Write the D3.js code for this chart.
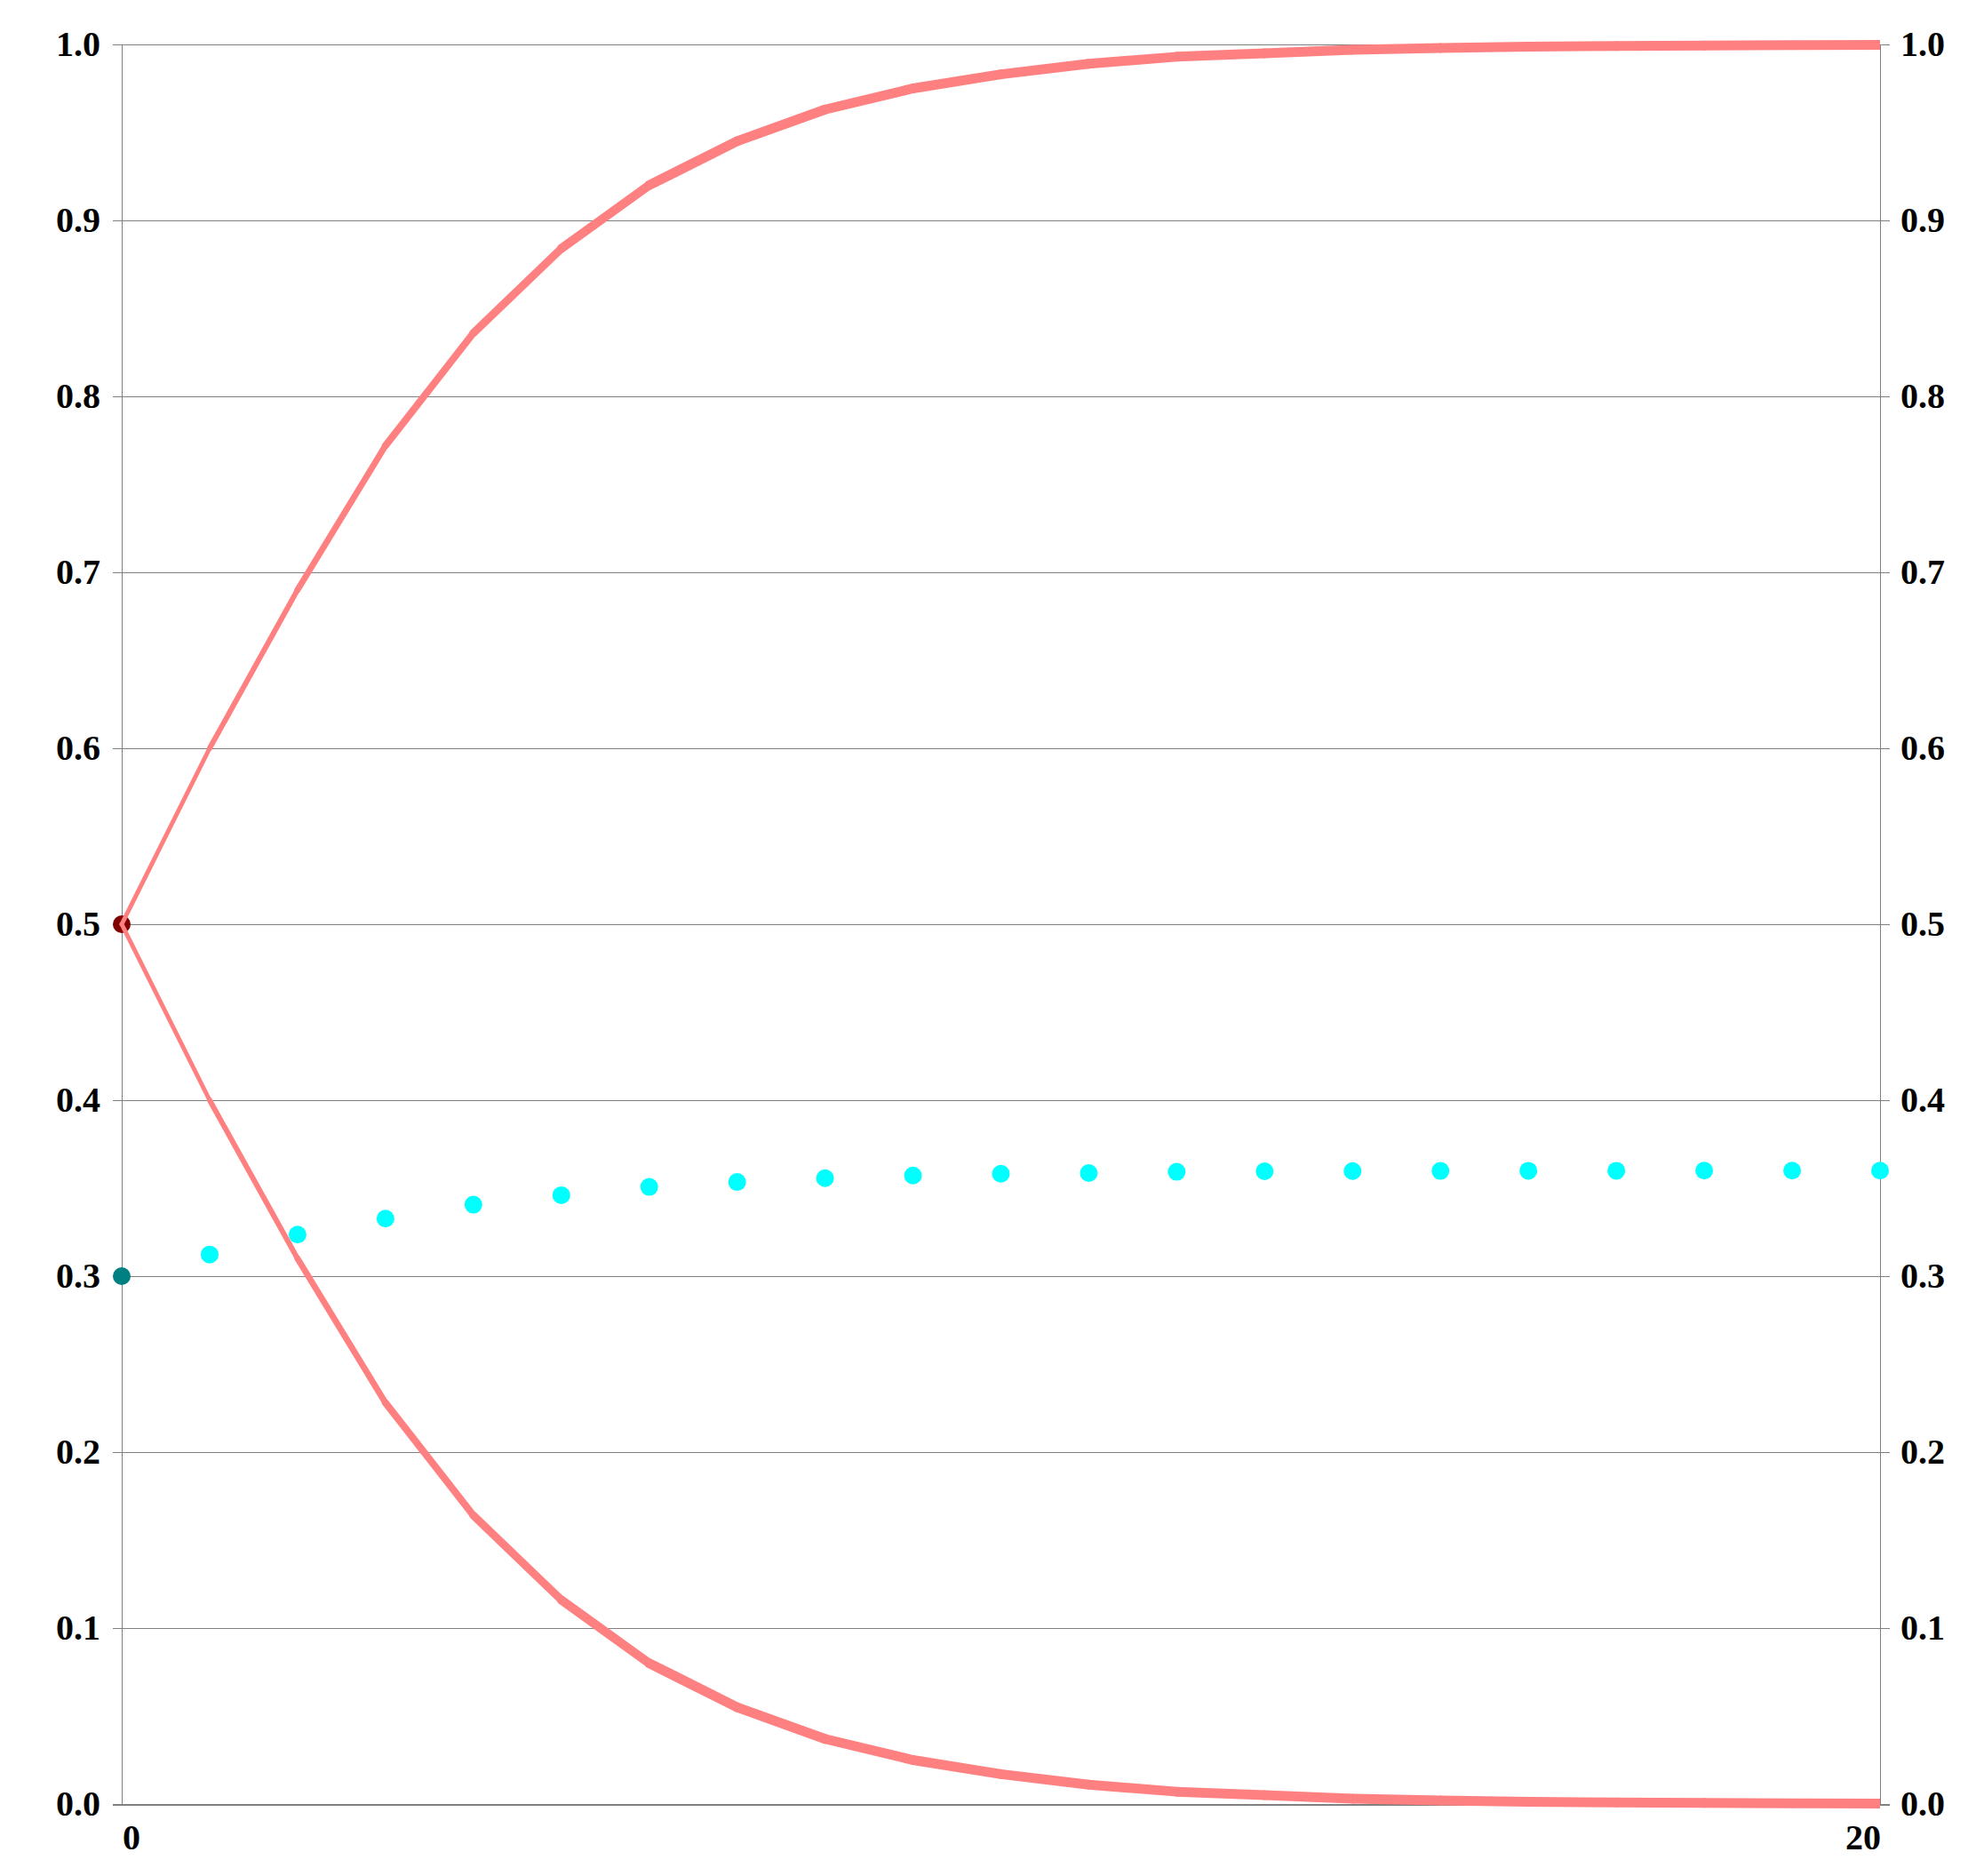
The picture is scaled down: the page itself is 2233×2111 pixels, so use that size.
<!DOCTYPE html>
<html>
<head>
<meta charset="utf-8">
<script src="https://cdn.jsdelivr.net/npm/d3@7"></script>
<style>
  html, body { margin: 0; padding: 0; background: #fff; }
  svg { display: block; }
  .lbl { font-family: "Liberation Serif", "Times New Roman", serif; font-weight: bold; font-size: 40px; fill: #000; }
</style>
</head>
<body>
<svg id="chart" width="2233" height="2111"></svg>
<script>
// ---- data ----
const generations = [0,1,2,3,4,5,6,7,8,9,10,11,12,13,14,15,16,17,18,19,20];
const upperValues = [0.5, 0.6, 0.69, 0.772, 0.836, 0.884, 0.92, 0.945, 0.963, 0.975, 0.983,
                     0.989, 0.993, 0.995, 0.997, 0.998, 0.9987, 0.9991, 0.9994, 0.9996, 0.9997];
const lowerValues = [0.5, 0.4, 0.31, 0.228, 0.164, 0.116, 0.08, 0.055, 0.037, 0.025, 0.017,
                     0.011, 0.007, 0.005, 0.003, 0.002, 0.0013, 0.0009, 0.0006, 0.0004, 0.0003];
const cyanValues = [0.3, 0.3123, 0.3236, 0.3327, 0.3406, 0.346, 0.3507, 0.3535, 0.3557, 0.3572, 0.3582,
                    0.3586, 0.3593, 0.3596, 0.3597, 0.3598, 0.3599, 0.3599, 0.36, 0.36, 0.36];
const yTicks = [0, 0.1, 0.2, 0.3, 0.4, 0.5, 0.6, 0.7, 0.8, 0.9, 1.0];
const xTickLabels = [{v: 0, t: "0"}, {v: 20, t: "20"}];

// ---- layout ----
const svg = d3.select("#chart");
const x = d3.scaleLinear().domain([0, 20]).range([137, 2116]);
const y = d3.scaleLinear().domain([0, 1]).range([2030, 50]);
const fmt = d3.format(".1f");

svg.append("rect").attr("width", 2233).attr("height", 2111).attr("fill", "#fff");

// gridlines + ticks
const g = svg.append("g").attr("shape-rendering", "crispEdges");
g.selectAll("line.grid").data(yTicks).join("line")
  .attr("x1", x(0) - 10).attr("x2", x(20) + 11)
  .attr("y1", d => Math.round(y(d)) + 0.5).attr("y2", d => Math.round(y(d)) + 0.5)
  .attr("stroke", "#808080").attr("stroke-width", d => d === 0 ? 2 : 1);

// vertical axes
[0, 20].forEach(v => {
  g.append("line").attr("x1", Math.round(x(v)) + 0.5).attr("x2", Math.round(x(v)) + 0.5)
    .attr("y1", y(1)).attr("y2", y(0))
    .attr("stroke", "#808080").attr("stroke-width", 1);
});

// left labels
svg.selectAll("text.yl").data(yTicks).join("text")
  .attr("class", "lbl yl")
  .attr("x", x(0) - 24).attr("y", d => y(d) + 13)
  .attr("text-anchor", "end")
  .text(d => fmt(d));
// right labels
svg.selectAll("text.yr").data(yTicks).join("text")
  .attr("class", "lbl yr")
  .attr("x", x(20) + 23).attr("y", d => y(d) + 13)
  .attr("text-anchor", "start")
  .text(d => fmt(d));
// x labels
svg.selectAll("text.xl").data(xTickLabels).join("text")
  .attr("class", "lbl xl")
  .attr("x", d => d.v === 0 ? x(0) + 1 : x(20) + 1)
  .attr("y", 2081)
  .attr("text-anchor", d => d.v === 0 ? "start" : "end")
  .text(d => d.t);

// dots
const dots = svg.append("g");
dots.selectAll("circle").data(generations).join("circle")
  .attr("cx", d => x(d))
  .attr("cy", (d, i) => y(cyanValues[i]))
  .attr("r", 10)
  .attr("fill", (d, i) => i === 0 ? "#008080" : "#00FFFF");
dots.append("circle").attr("cx", x(0)).attr("cy", y(upperValues[0])).attr("r", 10).attr("fill", "#800000");

// lines with growing width
const widthScale = d3.scaleLinear().domain([0, 6]).range([5, 11]).clamp(true);
function drawSeries(vals) {
  const segs = d3.pairs(generations.map((g, i) => [g, vals[i]]));
  svg.append("g").selectAll("line").data(segs).join("line")
    .attr("x1", d => x(d[0][0])).attr("y1", d => y(d[0][1]))
    .attr("x2", d => x(d[1][0])).attr("y2", d => y(d[1][1]))
    .attr("stroke", "#FF8080")
    .attr("stroke-width", (d, i) => widthScale(i))
    .attr("stroke-linecap", (d, i) => i === segs.length - 1 ? "butt" : "round");
}
drawSeries(upperValues);
drawSeries(lowerValues);
</script>
</body>
</html>
